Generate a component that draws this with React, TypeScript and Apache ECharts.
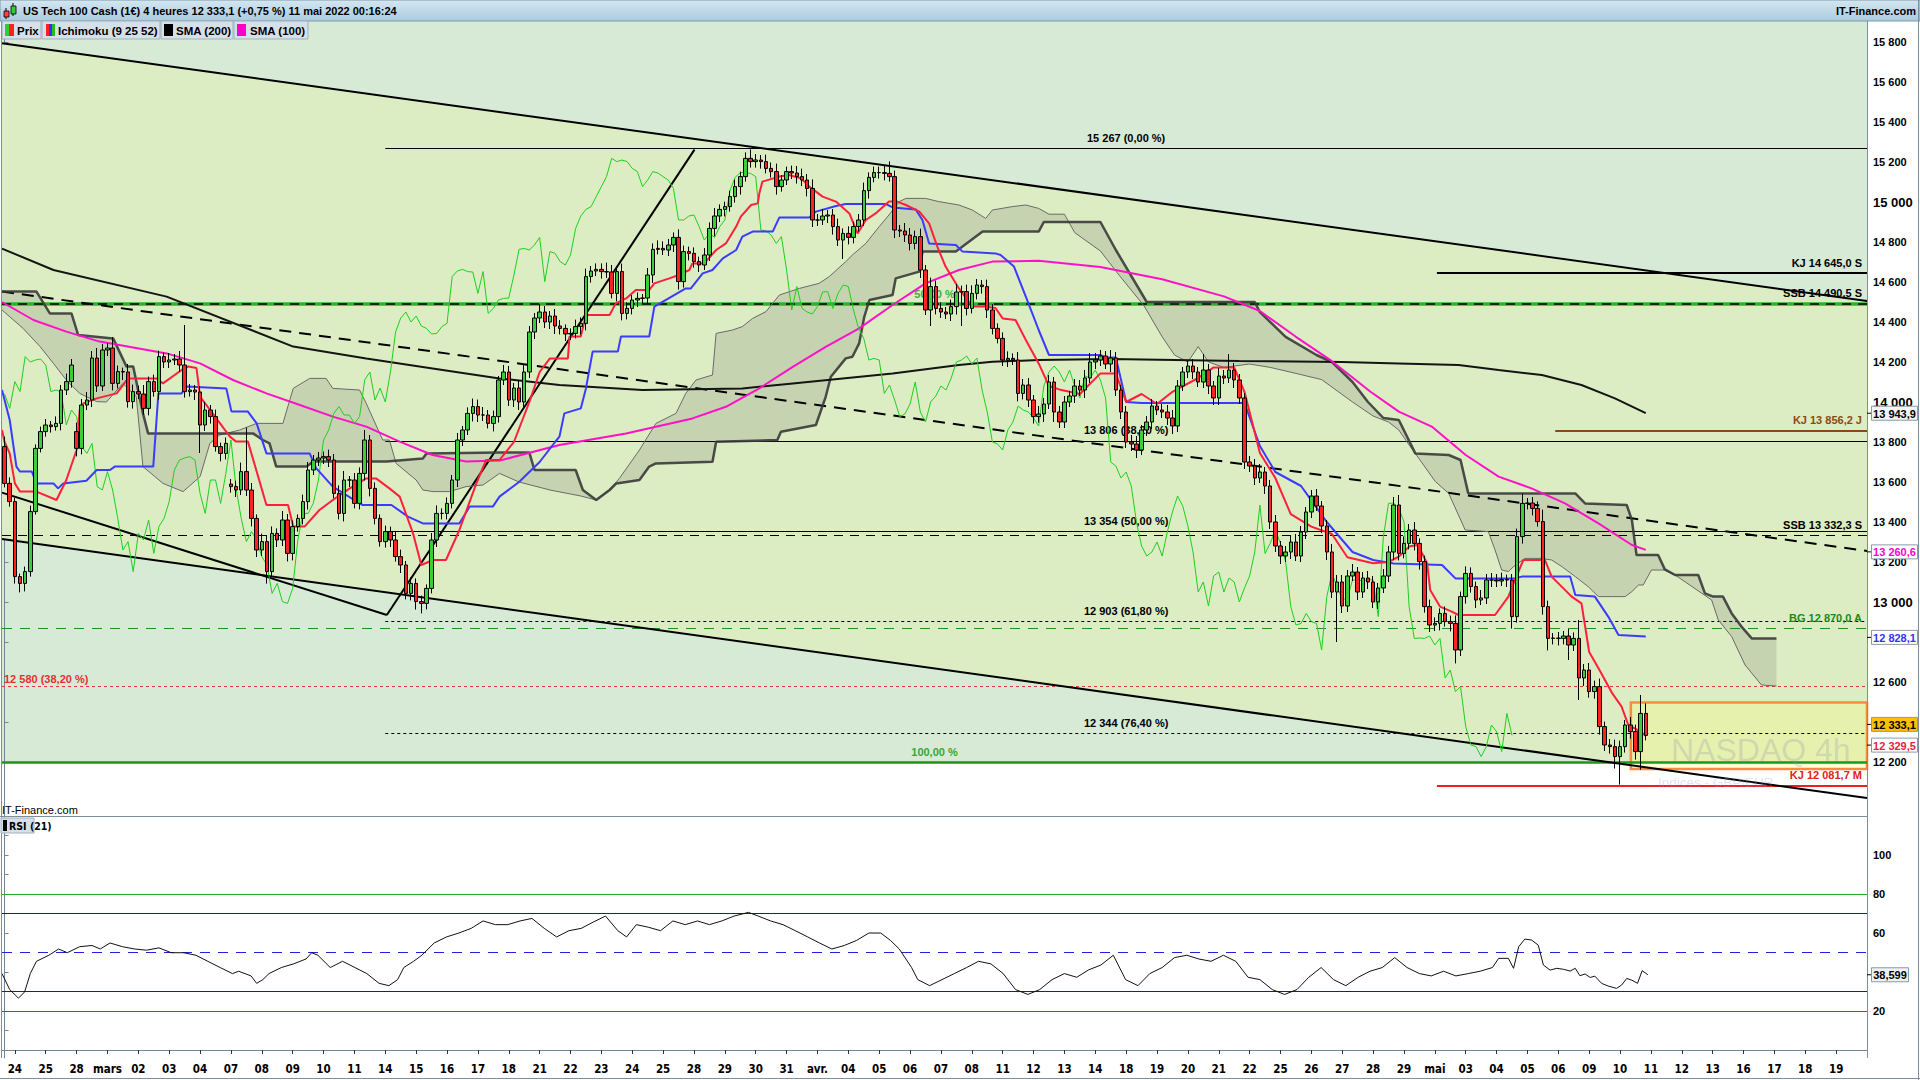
import React, { useEffect, useRef } from "react";
import * as echarts from "echarts";

// ---------------- data ----------------
const DAY_LABELS = ["24","25","28","mars","02","03","04","07","08","09","10","11","14","15","16","17","18","21","22","23","24","25","28","29","30","31","avr.","04","05","06","07","08","11","12","13","14","18","19","20","21","22","25","26","27","28","29","mai","03","04","05","06","09","10","11","12","13","16","17","18","19"];

const FIRST_OPEN = 13777;
const GAP_OPENS: Record<number, number> = { 14: 13852, 44: 13590 };

const CLOSES = [
  13593, 13502,
  13127, 13093, 13152, 13452, 13768, 13852,
  13885, 13877, 13893, 14060, 14102, 14185,
  13768, 13985, 14010, 14220, 14080, 14260,
  14270, 14093, 14152, 14150, 14002, 14052,
  14040, 13968, 14102, 14052, 14227, 14200,
  14210, 14215, 14185, 14052, 14060, 14050,
  13885, 13960, 13927, 13777, 13743, 13793,
  13577, 13560, 13652, 13560, 13418, 13260,
  13302, 13152, 13343, 13310, 13410, 13243,
  13377, 13418, 13502, 13660, 13710, 13720,
  13727, 13710, 13543, 13443, 13610, 13610,
  13493, 13643, 13810, 13568, 13418, 13302,
  13352, 13310, 13227, 13185, 13043, 13093,
  13002, 12993, 13068, 13310, 13443, 13443,
  13493, 13610, 13810, 13860, 13943, 13977,
  13935, 13935, 13893, 13927, 14110, 14150,
  14010, 14070, 14000, 14150, 14350, 14420,
  14450, 14400, 14430, 14380, 14368, 14340,
  14343, 14377, 14393, 14627, 14655, 14663,
  14652, 14650, 14543, 14652, 14443, 14468,
  14510, 14518, 14520, 14635, 14763, 14768,
  14760, 14785, 14823, 14602, 14752, 14743,
  14702, 14685, 14735, 14868, 14930, 14963,
  14977, 15027, 15077, 15127, 15218, 15202,
  15210, 15202, 15168, 15152, 15077, 15110,
  15152, 15145, 15127, 15110, 15068, 14910,
  14910, 14930, 14935, 14877, 14810, 14843,
  14823, 14877, 14910, 15057, 15123, 15147,
  15147, 15143, 15127, 14860, 14855, 14835,
  14793, 14827, 14660, 14460, 14577, 14468,
  14450, 14440, 14477, 14550, 14552, 14468,
  14543, 14585, 14577, 14460, 14368, 14318,
  14210, 14218, 14210, 14043, 14085, 14010,
  13927, 13940, 13990, 14100, 13950, 13900,
  14000, 14030, 14080, 14060, 14120, 14200,
  14210, 14230, 14190, 14220, 14060, 13950,
  13800, 13790, 13760, 13860, 13900, 13980,
  13960, 13950, 13920, 13880, 14080, 14150,
  14180, 14150, 14100, 14160, 14080, 14020,
  14130, 14120, 14160, 14110, 14020, 13700,
  13680, 13620, 13650, 13580, 13400, 13280,
  13230, 13250, 13300, 13230, 13350, 13450,
  13530, 13480, 13380, 13250, 13050, 13100,
  12980, 13130, 13150, 13050, 13120, 13100,
  13000, 13070, 13130, 13250, 13485, 13243,
  13293, 13360, 13293, 13202, 12977, 12885,
  12893, 12943, 12902, 12893, 12760, 13027,
  13143, 13077, 13010, 13020, 13110, 13110,
  13105, 13112, 13110, 12927, 13327, 13493,
  13495, 13468, 13402, 12977, 12818, 12820,
  12818, 12830, 12785, 12818, 12620, 12660,
  12552, 12577, 12377, 12285, 12277, 12227,
  12277, 12385, 12352, 12252, 12443, 12333.1,
];

const UP_WICK = [
  50, 30,
  20, 15, 25, 30, 20, 25,
  30, 20, 35, 25, 40, 30,
  45, 30, 40, 35, 50, 30,
  25, 55, 30, 20, 40, 35,
  30, 45, 25, 35, 30, 20,
  35, 25, 40, 200, 30, 25,
  30, 40, 25, 35, 20, 30,
  25, 30, 45, 220, 35, 20,
  40, 30, 35, 25, 45, 30,
  30, 20, 35, 40, 25, 30,
  25, 35, 30, 40, 45, 20,
  35, 30, 50, 25, 30, 20,
  30, 25, 40, 35, 20, 30,
  25, 30, 20, 35, 40, 25,
  30, 25, 35, 20, 30, 40,
  35, 40, 25, 30, 20, 35,
  30, 25, 40, 35, 30, 25,
  40, 30, 25, 35, 30, 20,
  25, 35, 30, 40, 25, 30,
  30, 45, 35, 25, 40, 30,
  25, 30, 20, 35, 30, 40,
  35, 30, 25, 40, 30, 25,
  30, 25, 35, 30, 40, 25,
  25, 30, 35, 25, 30, 45,
  30, 25, 35, 30, 40, 25,
  25, 30, 35, 40, 30, 45,
  30, 35, 25, 30, 40, 25,
  35, 25, 30, 40, 25, 30,
  30, 35, 60, 30, 25, 40,
  35, 30, 40, 25, 45, 30,
  30, 25, 35, 40, 30, 35,
  40, 30, 25, 35, 30, 25,
  30, 35, 25, 40, 30, 35,
  25, 40, 30, 35, 25, 30,
  30, 25, 35, 30, 40, 45,
  35, 30, 25, 40, 30, 25,
  30, 35, 40, 25, 30, 35,
  25, 30, 35, 40, 30, 25,
  30, 35, 25, 80, 30, 25,
  40, 30, 80, 35, 30, 25,
  30, 35, 40, 25, 30, 35,
  25, 30, 35, 40, 30, 25,
  30, 35, 25, 30, 40, 35,
  35, 30, 40, 25, 30, 35,
  30, 25, 35, 30, 40, 50,
  35, 30, 40, 25, 30, 35,
  30, 25, 35, 30, 40, 25,
  35, 30, 25, 40, 30, 35,
  30, 35, 25, 30, 40, 50,
  25, 30, 35, 60, 30, 25,
  30, 25, 35, 30, 92, 30,
  35, 30, 40, 25, 30, 35,
  30, 25, 40, 35, 92, 50,
];

const DOWN_WICK = [
  20, 25,
  35, 45, 40, 25, 15, 20,
  25, 30, 20, 35, 25, 30,
  40, 30, 25, 35, 30, 25,
  30, 35, 25, 40, 30, 35,
  25, 30, 35, 25, 40, 30,
  30, 25, 35, 30, 25, 40,
  140, 30, 35, 25, 40, 30,
  30, 35, 25, 30, 40, 35,
  30, 60, 25, 35, 30, 40,
  35, 25, 30, 40, 25, 30,
  30, 35, 25, 30, 40, 35,
  25, 30, 35, 40, 30, 25,
  30, 35, 25, 40, 30, 35,
  40, 50, 30, 25, 35, 30,
  30, 25, 35, 30, 25, 40,
  35, 30, 25, 40, 30, 25,
  30, 35, 40, 25, 30, 35,
  25, 30, 35, 40, 30, 35,
  30, 25, 40, 35, 30, 25,
  35, 30, 25, 40, 35, 30,
  30, 35, 25, 30, 40, 25,
  25, 30, 35, 40, 30, 35,
  30, 35, 25, 30, 40, 30,
  35, 25, 30, 40, 25, 30,
  30, 35, 25, 30, 40, 25,
  25, 30, 35, 30, 40, 35,
  30, 25, 35, 40, 30, 95,
  35, 30, 25, 30, 40, 25,
  30, 35, 25, 40, 30, 35,
  35, 30, 40, 25, 80, 30,
  30, 25, 35, 40, 170, 35,
  25, 30, 35, 40, 30, 25,
  30, 35, 25, 40, 30, 35,
  35, 30, 40, 25, 50, 30,
  30, 25, 35, 30, 40, 25,
  35, 30, 25, 40, 30, 35,
  30, 35, 40, 25, 30, 35,
  25, 30, 35, 40, 30, 25,
  30, 35, 25, 30, 40, 35,
  35, 30, 25, 40, 30, 35,
  30, 35, 25, 40, 35, 30,
  40, 30, 35, 25, 30, 35,
  30, 25, 35, 40, 30, 250,
  35, 30, 25, 40, 30, 35,
  30, 35, 25, 30, 40, 35,
  25, 30, 35, 40, 30, 35,
  30, 35, 25, 40, 67, 30,
  35, 30, 40, 25, 30, 35,
  30, 25, 35, 60, 30, 35,
  30, 35, 25, 40, 60, 30,
  35, 30, 75, 30, 110, 40,
  30, 35, 40, 30, 35, 60,
  140, 30, 35, 40, 90, 25,
];

// Ichimoku lines: [slot, value]
const TENKAN = [
  [-0.5,13860],[0,13800],[1,13743],[2,13593],[3,13552],[6.2,13552],[10.1,13510],[12,13610],[14,13760],[14.6,13960],[15.3,13993],[17.9,14018],[21.8,14043],[24,14118],[29.5,14118],[30.8,14093],[34.4,14160],[35.7,14177],[37.3,14170],[38,14027],[43.8,13827],[45,13802],[47.3,13802],[50.9,13485],[55.1,13485],[56.1,13377],[58.3,13377],[61.2,13460],[63.8,13510],[67.1,13568],[70.3,13618],[72.2,13618],[74.8,13568],[76.8,13527],[79.4,13343],[81,13185],[83.3,13210],[85.8,13210],[88.4,13360],[91.7,13593],[93.6,13710],[96.2,13710],[99,13800],[102,14000],[104,14150],[106,14218],
  [109.5,14218],[109.8,14327],[112,14327],[113,14435],[117.6,14435],[118.8,14493],[120.8,14518],[122.7,14560],[125.3,14560],[126.3,14593],[129.2,14618],[131.1,14635],[133.1,14660],[133.7,14693],[136,14693],[138.3,14760],[140.2,14793],[142.2,14877],[143.1,14927],[145.1,14985],[146.4,14993],[146.7,15043],[147.3,15102],[150.6,15127],[152.5,15135],[154.8,15118],[156.4,15077],[159,15027],[161.6,15002],[164.2,14943],[165.8,14843],[167.4,14910],[169.3,14943],[171.9,15002],[173.5,15002],[175.2,14985],[177.8,14952],[179.7,14893],[181.3,14777],[182.9,14677],[185.5,14568],[188.1,14477],[190.5,14477],[192.6,14470],[194,14418],[196.5,14410],[198.5,14310],[201,14193],
  [203,14080],[205,14063],[209,14040],[213,14143],[216,14143],[218,14000],[221,14040],[224,13990],[227,14051],[232,14120],[235,14173],[239,14173],[241,14051],[244,13745],[247,13620],[250,13439],[254,13377],[258,13340],[261,13224],[266,13194],[269,13200],
  [271,13227],[273,13277],[274.5,13285],[275.2,13260],[276.5,13193],[277.1,13060],[279,12977],[281.3,12952],[282.6,12935],[289.7,12935],[292.3,13027],[293.3,13093],[295.2,13210],[299.4,13210],[300.7,13127],[304.6,13027],[306.5,12993],[308,12750],[310,12660],[312.5,12543],[314.3,12477],[315.6,12385],[318,12352],[319,12329.5],
];

const KIJUN = [
  [-0.5,14060],[1,13910],[2.3,13677],[3,13652],[5.3,13652],[6.2,13593],[9.5,13593],[10.4,13568],[11.4,13593],[15.9,13606],[17.9,13660],[20.5,13660],[21.4,13677],[28.9,13677],[29.9,14043],[34.4,14043],[35.4,14077],[43.1,14068],[44.1,13952],[47.3,13952],[49,13893],[50.9,13743],[59.3,13743],[60.6,13668],[63.8,13577],[69,13493],[69.6,13485],[75.2,13485],[78.4,13427],[81.3,13393],[88.4,13393],[90.4,13477],[94.9,13477],[96.2,13527],[100,13600],[104,13700],[107,13800],
  [107.85,13827],[108.8,13943],[112,13968],[113,14068],[114.3,14252],[119.2,14252],[119.8,14327],[125.3,14327],[126.3,14477],[132.4,14568],[133.4,14568],[135.7,14643],[137.6,14660],[139.6,14718],[142.2,14760],[143.4,14827],[145.4,14852],[149.3,14852],[150.6,14923],[156.4,14923],[157.7,14952],[161.6,14980],[163.5,14990],[171.3,14990],[172.6,14973],[177.1,14963],[178.4,14910],[179.7,14793],[184.9,14785],[186.2,14752],[192.6,14743],[193.6,14735],[196.2,14677],[198.5,14527],[201,14360],
  [203,14235],[213,14235],[214,14222],[216,14222],[218,14000],[221,13995],[241,13995],[244,13780],[247,13650],[252,13580],[257,13400],[262,13250],[266,13210],[270,13193],
  [279.4,13185],[282,13118],[293.6,13118],[294.9,13127],[304.3,13127],[305.3,13035],[309.1,13027],[311.7,12927],[313.7,12835],[319,12828.1],
];

const SENKOU_B = [
  [-0.5,14552],[6.2,14552],[8.8,14443],[13,14443],[14.3,14335],[21.1,14318],[23.7,14177],[25,14177],[26.9,13943],[27.9,13843],[48.3,13843],[50.2,13810],[51.5,13793],[52.8,13677],[58.7,13677],[60,13702],[74.2,13702],[81.3,13718],[82,13743],[96.2,13747],[102,13747],[103,13660],[111,13660],[112.4,13560],[115,13510],[117.6,13560],[118.9,13593],[123.4,13610],[125.3,13677],[126.6,13693],[137.6,13701],[138.3,13801],[150.2,13810],[150.9,13851],[157.7,13885],[159.6,14026],[160.6,14126],[163.5,14218],[164.8,14226],[166.1,14293],[167.1,14426],[168.1,14510],[172.6,14535],[173.2,14618],[177.8,14652],[178.4,14752],[184.9,14752],[190.1,14852],[201,14852],
  [202,14900],[213,14900],[216,14760],[222,14500],[243,14500],[244,14449],[249,14326],[255,14235],[258,14200],[262,14100],[265,14000],[268,13920],
  [271,13910],[274.2,13743],[280.7,13735],[283,13710],[284.5,13543],[305.3,13543],[307.2,13493],[315.3,13485],[316.3,13410],[317.2,13235],[321.4,13235],[322.7,13163],[324.7,13135],[329.2,13135],[330.5,13043],[332.1,13027],[334,13027],[335.7,12943],[337.6,12877],[339.6,12818],[344.4,12818],
];

const SENKOU_A = [
  [-0.5,14460],[3.6,14368],[6.9,14277],[9.5,14193],[12,14110],[14.6,14043],[17.9,14002],[19.8,14000],[23,14093],[25.6,14027],[26.9,13677],[30.8,13593],[34.7,13552],[38,13627],[39.9,13793],[41.8,13835],[45.7,13860],[49,13893],[54.1,13893],[56.1,14068],[59.3,14118],[62.5,14118],[63.8,14068],[69,14060],[70.3,13993],[73.5,13810],[74.8,13810],[76.1,13693],[80,13610],[81.3,13560],[83.3,13552],[86.5,13552],[89.7,13577],[93,13585],[96.2,13643],[100,13600],[106,13560],[112,13530],[115,13510],[117.6,13560],[119.5,13618],[123.4,13760],[126.6,13893],[130.5,13943],[132.4,14043],[134.4,14110],[137.6,14135],[138.3,14343],[141.5,14360],[143.4,14377],[145.4,14418],[148,14452],[150.6,14535],[154.5,14568],[158.3,14593],[160.3,14627],[163.5,14702],[164.8,14735],[167.4,14793],[170,14877],[171.9,14935],[173.9,15002],[175.2,15018],[179,15018],[181.6,15002],[185.5,14985],[188.1,14960],[190.7,14918],[192,14960],[195.9,14977],[198.5,14985],[201,14968],
  [203,14939],[206,14939],[208,14847],[213,14755],[216.7,14632],[221.5,14480],[225,14326],[227.4,14235],[230,14200],[232,14277],[234,14200],[237,14173],[242,14190],[246,14173],[251,14143],[256,14112],[262,14000],[266,13930],[269,13900],
  [271,13860],[273,13785],[274.2,13743],[278.1,13602],[280.7,13543],[283.9,13360],[288.4,13352],[289.7,13260],[291,13160],[292.3,13152],[293.3,13177],[295.5,13218],[298.8,13218],[300.7,13210],[302.7,13177],[305.3,13127],[307.8,13077],[309.8,13027],[315,13027],[316.3,13052],[317.6,13085],[318.5,13085],[320.1,13160],[322.7,13160],[324.7,13135],[331.8,13010],[333.1,12910],[335.7,12827],[338.3,12685],[341.5,12585],[344.4,12580],
];

const SMA200 = [[-0.5,14767],[9.5,14660],[31.5,14527],[56.1,14277],[70.3,14218],[83.2,14168],[96.2,14118],[107.85,14085],[124,14060],[143.4,14068],[153.2,14093],[162.9,14118],[172.6,14143],[185.5,14185],[192,14201],[201,14210],[215,14215],[240,14205],[260,14200],[271,14193],[282.6,14185],[290.4,14160],[298.8,14135],[306.5,14085],[313,14018],[319,13943.9]];

const SMA100 = [[-0.5,14500],[5.6,14410],[12,14352],[18.5,14302],[31.5,14243],[38,14193],[44.4,14110],[50.9,14043],[57.4,13985],[63.8,13927],[70.3,13877],[76.8,13802],[83.2,13735],[89.7,13702],[96.2,13707],[107.85,13785],[120.8,13843],[133.7,13918],[140.2,13976],[146.7,14068],[153.2,14176],[159.6,14276],[166.1,14368],[172.6,14485],[179,14593],[185.5,14660],[192,14702],[201,14706],[213,14675],[225,14614],[237,14528],[244,14455],[251,14326],[258,14204],[265.5,14051],[271,13952],[277.4,13877],[284,13735],[290.4,13627],[296.8,13568],[303.3,13493],[309.8,13393],[316.3,13285],[319,13260.6]];

const RSI = [
  [-0.5,39.2],[1,31],[2.7,26.6],[3.9,29.8],[5,39.2],[6.2,45.5],[8.6,48.6],[10.5,51.8],[12.2,49.9],[14.6,53],[17,53.6],[18.6,51.8],[20.5,54.9],[22.9,53],[25.3,51.8],[27.6,51.2],[30,52.4],[32.4,49.9],[34.8,49.9],[37.2,48.6],[39.5,45.5],[41.9,42.3],[44.3,39.2],[45.5,40.4],[47.9,38],[49,34.2],[50.2,36.1],[51.4,39.2],[53.8,42.3],[56.2,44.2],[58.6,46.7],[59.7,49.9],[60.9,48.6],[63.3,42.3],[65.7,45.5],[68.1,42.3],[70.4,39.2],[72.8,34.2],[74.7,33],[76.4,36.1],[77.6,42.3],[79.5,45.5],[81.1,48.6],[83.5,54.9],[85.9,58],[88.3,60],[90.7,62.4],[93,66.2],[95.4,64.3],[97.8,64.3],[100.2,66.2],[102.5,67.5],[104.9,62.4],[107.3,58],[109.7,61.2],[112.1,62.4],[114.4,65.6],[116.8,68.7],[119.2,61.2],[120.9,58],[122.8,64.3],[125.1,63],[127.5,61.2],[129.9,66.2],[132.3,64.3],[134.7,66.2],[137,64.3],[139.4,66.2],[141.8,68.7],[144.6,70.6],[146.5,68.7],[148.9,66.2],[151.3,64.3],[153.7,61.2],[156.1,58],[158.4,54.9],[160.8,51.8],[163.2,53.6],[165.6,56.2],[168,60],[170.3,60],[172.2,56.2],[173.9,51.8],[176.3,42.3],[177.5,36.1],[179.8,33],[182.2,36.1],[184.6,39.2],[187,42.3],[189.3,45.5],[191.7,44.2],[194.1,39.2],[196.5,31],[198.9,28.5],[201.2,31],[203.6,36.1],[206,39.2],[208.4,37.3],[210.7,41.1],[213.1,43.6],[215.5,48.6],[217.9,36.1],[220.3,33],[222.6,39.2],[225,42.3],[227.4,47.4],[229.8,48.6],[232.1,46.7],[234.5,45.5],[236.9,48.6],[239.3,45.5],[241.7,37.3],[244,36.1],[246.4,31],[248.8,28.5],[251.2,31],[253.5,37.3],[255.9,42.3],[258.3,36.1],[260.7,33],[263.1,37.3],[265.4,40.4],[267.8,42.3],[270.2,47.4],[272.6,42.3],[275,39.2],[277.3,38],[279.7,40.4],[282.1,38],[284.5,39.2],[286.8,40.4],[289.2,42.3],[290.4,47],[292.3,47],[293.3,41.9],[294.3,53],[295.5,56.9],[296.8,56.4],[298.1,53.8],[299.1,43.6],[300.4,41],[301.7,41.9],[303,41.4],[304.3,40.5],[305.3,41.9],[306.2,38.1],[307.2,39],[308.2,37.2],[309.1,37.9],[310.4,34.2],[311.7,32.8],[313.3,31.6],[314.3,33.3],[315.3,36.7],[316.3,35.8],[317.4,34.2],[318.3,40.7],[319.4,38.599],
];

// drawn trend lines [slot, value]
const UPPER_LINE = [[-0.5,15794],[362,14505]];
const LOWER_LINE = [[-0.5,13315],[362,12020]];
const DASHED_LINE = [[-0.5,14552],[362,13255]];
const LEFT_LINE = [[-0.5,13547],[74.3,12935]];
const STEEP_LINE = [[74.3,12935],[134.1,15262]];
const CHANNEL_AREA = [[-0.5,15794],[362,14505],[362,12200],[311.6,12200],[-0.5,13315]];
const UPPER_AREA = [[-0.5,15905],[362,15905],[362,12200],[-0.5,12200]];
const BOX_AREA = [[316.1,12498],[362,12498],[362,12165],[316.1,12165]];

// horizontal levels: id, value, start slot, text
const LEVEL_IDS = ["fib0","fib382","fib50","fib618","fib764","fib100","g50","ssbS1","ssbS2","bg","r382","kjS","kjJ","kjM"];
const LEVEL_VALUES = [15267, 13806, 13354, 12903, 12344, 12200, 14490, 14490.5, 13332.3, 12870, 12580, 14645, 13856.2, 12081.7];
const LEVEL_FROM = [74, 74, 74, 74, 74, -0.5, -0.5, -0.5, -0.5, -0.5, -0.5, 278.4, 301.4, 278.4];
const LEVEL_TEXTS = ["15 267 (0,00 %)","13 806 (38,20 %)","13 354 (50,00 %)","12 903 (61,80 %)","12 344 (76,40 %)","100,00 %","50,00 %","SSB 14 490,5 S","SSB 13 332,3 S","BG 12 870,0 A","12 580 (38,20 %)","KJ 14 645,0 S","KJ 13 856,2 J","KJ 12 081,7 M"];

const PRICE_TICKS = [12200,12400,12600,12800,13000,13200,13400,13600,13800,14000,14200,14400,14600,14800,15000,15200,15400,15600,15800];
const PRICE_LABELS = [12200,12600,13000,13200,13400,13600,13800,14000,14200,14400,14600,14800,15000,15200,15400,15600,15800];
const RSI_TICKS = [0,10,20,30,40,50,60,70,80,90,100,110];
const RSI_LABELS = [20,60,80,100];
const RSI_LEVELS = [80, 70, 50, 30, 20];

const BADGE_VALUES = [13943.9, 13260.6, 12828.1, 12333.1, 12329.5];
const BADGE_TEXTS = ["13 943,9", "13 260,6", "12 828,1", "12 333,1", "12 329,5"];
const RSI_LAST = 38.599;

const TITLE = "US Tech 100 Cash (1€) 4 heures 12 333,1 (+0,75 %) 11 mai 2022 00:16:24";
const LEGEND = ["Prix", "Ichimoku (9 25 52)", "SMA (200)", "SMA (100)"];

// ---------------- styles ----------------
const FONT = "'Liberation Sans', Arial, Helvetica, sans-serif";
const NARROW = "'Liberation Sans Narrow', 'Arial Narrow', 'DejaVu Sans Condensed', sans-serif";
const AXIS_COLOR = "#6f8696";

const LEVEL_STYLE: Record<string, any> = {
  fib0: { color: "#000", width: 1, type: "solid", pos: "insideMiddleTop", tc: "#000" },
  fib382: { color: "#000", width: 1, type: "solid", pos: "insideMiddleTop", tc: "#000" },
  fib50: { color: "#000", width: 1, type: "solid", pos: "insideMiddleTop", tc: "#000" },
  fib618: { color: "#000", width: 1, type: [3, 3], pos: "insideMiddleTop", tc: "#000" },
  fib764: { color: "#000", width: 1, type: [3, 3], pos: "insideMiddleTop", tc: "#000" },
  fib100: { color: "#1c961c", width: 2.5, type: "solid", pos: "insideMiddleTop", tc: "#34a834" },
  g50: { color: "#30b030", width: 3.5, type: "solid", pos: "insideMiddleTop", tc: "#3fae3f" },
  ssbS1: { color: "#000", width: 1.5, type: [9, 7], pos: "insideEndTop", tc: "#000" },
  ssbS2: { color: "#000", width: 1, type: [9, 7], pos: "insideEndTop", tc: "#000" },
  bg: { color: "#1f8f1f", width: 1.2, type: [10, 8], pos: "insideEndTop", tc: "#1a8a1a" },
  r382: { color: "#ee3333", width: 1, type: [3, 3], pos: "insideStartTop", tc: "#e53030" },
  kjS: { color: "#000", width: 2, type: "solid", pos: "insideEndTop", tc: "#000" },
  kjJ: { color: "#8b4a12", width: 2, type: "solid", pos: "insideEndTop", tc: "#8b4a12" },
  kjM: { color: "#e82020", width: 2, type: "solid", pos: "insideEndTop", tc: "#e82020" },
};
const RSI_LEVEL_STYLE = [
  { color: "#22aa22", type: "solid" },
  { color: "#1a1aa0", type: "solid" },
  { color: "#2222dd", type: [10, 8] },
  { color: "#1a1aa0", type: "solid" },
  { color: "#dd2222", type: "solid" },
];
const BADGE_STYLE = [
  { color: "#000", bg: "#f2f4f6", dy: 0 },
  { color: "#ff00cc", bg: "#ffffff", dy: 2 },
  { color: "#3333ff", bg: "#ffffff", dy: 1 },
  { color: "#000", bg: "#ffc000", dy: -11 },
  { color: "#e8223a", bg: "#ffffff", dy: 9 },
];

const spaced = (v: number) => {
  const s = String(Math.round(v));
  return s.length > 3 ? s.slice(0, -3) + " " + s.slice(-3) : s;
};

function lineSeries(data: any[], color: string, width: number, z: number, extra: any = {}, axis = 0) {
  return {
    type: "line", xAxisIndex: axis, yAxisIndex: axis, data, z, silent: true,
    symbol: "none", showSymbol: false, animation: false,
    lineStyle: { color, width, ...extra },
  };
}

function polySeries(points: number[][], style: any, z: number) {
  return {
    type: "custom", xAxisIndex: 0, yAxisIndex: 0, z, silent: true, animation: false,
    data: [[points[0][0], points[0][1]]],
    encode: { x: 0, y: 1 },
    renderItem: (_p: any, api: any) => ({
      type: "polygon",
      shape: { points: points.map((p) => api.coord(p)) },
      style,
    }),
  };
}

function buildOption() {
  const ohlc = CLOSES.map((c, k) => {
    const o = k === 0 ? FIRST_OPEN : GAP_OPENS[k] ?? CLOSES[k - 1];
    return [k, o, c, Math.min(o, c) - DOWN_WICK[k], Math.max(o, c) + UP_WICK[k]];
  });
  const chikou = CLOSES.slice(26).map((c, i) => [i, c]);
  const cloud = [...SENKOU_A, ...SENKOU_B.slice().reverse()];
  const daySlots = DAY_LABELS.map((_, d) => 2 + 6 * d);

  const levelData = LEVEL_IDS.map((id, i) => {
    const st = LEVEL_STYLE[id];
    return [
      {
        coord: [LEVEL_FROM[i], LEVEL_VALUES[i]],
        lineStyle: { color: st.color, width: st.width, type: st.type },
        label: {
          show: true, position: st.pos, formatter: LEVEL_TEXTS[i], color: st.tc,
          fontFamily: FONT, fontWeight: "bold", fontSize: 11, distance: st.pos === "insideStartTop" ? 2 : 5,
        },
      },
      { coord: [362, LEVEL_VALUES[i]] },
    ];
  });

  const rsiLevelData = RSI_LEVELS.map((v, i) => [
    { coord: [-0.5, v], lineStyle: { color: RSI_LEVEL_STYLE[i].color, width: 1.2, type: RSI_LEVEL_STYLE[i].type }, label: { show: false } },
    { coord: [362, v] },
  ]);

  return {
    animation: false,
    backgroundColor: "#ffffff",
    grid: [
      { left: 2, top: 21, width: 1865, height: 795, outerBoundsMode: "none", containLabel: false },
      { left: 2, top: 818, width: 1865, height: 240, outerBoundsMode: "none", containLabel: false },
    ],
    xAxis: [
      { type: "value", gridIndex: 0, min: -0.5, max: 362, show: false, splitLine: { show: false } },
      {
        type: "value", gridIndex: 1, min: -0.5, max: 362,
        splitLine: { show: false },
        axisLine: { show: true, lineStyle: { color: AXIS_COLOR, width: 1 } },
        axisTick: { show: true, customValues: daySlots, length: 4, lineStyle: { color: "#333" } },
        axisLabel: {
          show: true, customValues: daySlots, margin: 5,
          formatter: (v: number) => DAY_LABELS[Math.round((v - 2) / 6)] ?? "",
          color: "#000", fontFamily: NARROW, fontWeight: "bold", fontSize: 11.5,
        },
      },
    ],
    yAxis: [
      {
        type: "value", gridIndex: 0, position: "right", min: 11930, max: 15905,
        splitLine: { show: false },
        axisLine: { show: true, lineStyle: { color: AXIS_COLOR, width: 1 } },
        axisTick: { show: true, customValues: PRICE_TICKS, length: 4, lineStyle: { color: AXIS_COLOR } },
        axisLabel: {
          show: true, customValues: PRICE_LABELS, margin: 6, color: "#000",
          fontFamily: FONT, fontWeight: "bold", fontSize: 11,
          formatter: (v: number) => (v % 1000 === 0 ? `{big|${spaced(v)}}` : spaced(v)),
          rich: { big: { fontSize: 13, fontWeight: "bold", fontFamily: FONT, color: "#000" } },
        },
      },
      {
        type: "value", gridIndex: 1, position: "right", min: -4.1, max: 119,
        splitLine: { show: false },
        axisLine: { show: true, lineStyle: { color: AXIS_COLOR, width: 1 } },
        axisTick: { show: true, customValues: RSI_TICKS, length: 4, lineStyle: { color: AXIS_COLOR } },
        axisLabel: {
          show: true, customValues: RSI_LABELS, margin: 6, color: "#000",
          fontFamily: FONT, fontWeight: "bold", fontSize: 11,
        },
      },
    ],
    series: [
      polySeries(UPPER_AREA, { fill: "#d6ead6" }, 0),
      polySeries(CHANNEL_AREA, { fill: "#dcecc3" }, 1),
      polySeries(cloud, { fill: "rgba(100,100,100,0.18)" }, 2),
      polySeries(BOX_AREA, { fill: "rgba(255,255,120,0.28)", stroke: "#ff8a3d", lineWidth: 2.5 }, 3),
      {
        type: "line", xAxisIndex: 0, yAxisIndex: 0, data: [[-10, 13000]], z: 4, silent: true,
        symbol: "none", showSymbol: false, lineStyle: { width: 0 },
        markLine: { silent: true, symbol: ["none", "none"], animation: false, data: levelData },
      },
      lineSeries(UPPER_LINE, "#000", 2, 5),
      lineSeries(LOWER_LINE, "#000", 2, 5),
      lineSeries(DASHED_LINE, "#000", 2, 5, { type: [12, 8] }),
      lineSeries(LEFT_LINE, "#000", 2, 5),
      lineSeries(STEEP_LINE, "#000", 2, 5),
      lineSeries(SENKOU_A, "#6a6a6a", 1, 6),
      lineSeries(SENKOU_B, "#3a3a3a", 2.5, 6, { opacity: 0.9 }),
      lineSeries(SMA200, "#141414", 2, 7),
      lineSeries(SMA100, "#ff10c8", 2, 7),
      lineSeries(chikou, "#1fcf1f", 1, 8),
      lineSeries(KIJUN, "#3b3bff", 2, 9),
      lineSeries(TENKAN, "#ff1f3d", 2, 9),
      {
        type: "candlestick", xAxisIndex: 0, yAxisIndex: 0, z: 10, silent: true, animation: false,
        barWidth: 4, data: ohlc, encode: { x: 0, y: [1, 2, 3, 4] },
        itemStyle: { color: "#3ccc3c", color0: "#ff2222", borderColor: "#000", borderColor0: "#000", borderWidth: 1 },
      },
      {
        ...lineSeries(RSI, "#111", 1, 5, {}, 1),
        markLine: { silent: true, symbol: ["none", "none"], animation: false, data: rsiLevelData },
      },
    ],
  };
}

function staticGraphics() {
  const g: any[] = [];
  const Z = 100;
  g.push({
    type: "rect", z: Z, shape: { x: 0, y: 0, width: 1920, height: 21 },
    style: {
      fill: new echarts.graphic.LinearGradient(0, 0, 0, 1, [
        { offset: 0, color: "#d4e7f1" }, { offset: 1, color: "#aacbdf" },
      ]),
      stroke: "#7d98aa", lineWidth: 1,
    },
  });
  // title icon
  g.push({ type: "line", z: Z, shape: { x1: 6, y1: 8, x2: 6, y2: 19 }, style: { stroke: "#000", lineWidth: 1 } });
  g.push({ type: "rect", z: Z, shape: { x: 4, y: 11, width: 5, height: 6 }, style: { fill: "#ff4040", stroke: "#000", lineWidth: 0.8 } });
  g.push({ type: "line", z: Z, shape: { x1: 13, y1: 3, x2: 13, y2: 16 }, style: { stroke: "#000", lineWidth: 1 } });
  g.push({ type: "rect", z: Z, shape: { x: 11, y: 6, width: 5, height: 8 }, style: { fill: "#33cc33", stroke: "#000", lineWidth: 0.8 } });
  g.push({
    type: "text", z: Z, x: 23, y: 11,
    style: { text: TITLE, font: `bold 11px ${FONT}`, fill: "#000", textVerticalAlign: "middle", verticalAlign: "middle" },
  });
  g.push({
    type: "text", z: Z, x: 1916, y: 11,
    style: { text: "IT-Finance.com", font: `bold 11px ${FONT}`, fill: "#000", textAlign: "right", align: "right", textVerticalAlign: "middle", verticalAlign: "middle" },
  });
  // legend boxes
  const boxes = [[2, 39], [42, 118], [161, 72], [234, 74]];
  boxes.forEach(([x, w], i) => {
    g.push({ type: "rect", z: Z, shape: { x, y: 21, width: w, height: 18 }, style: { fill: "#d6e0e8", stroke: "#9fb0bd", lineWidth: 1 } });
    const tx = [17, 58, 176, 250][i];
    g.push({
      type: "text", z: Z, x: tx, y: 30.5,
      style: { text: LEGEND[i], font: `bold 11.5px ${FONT}`, fill: "#000", textVerticalAlign: "middle", verticalAlign: "middle" },
    });
  });
  g.push({ type: "rect", z: Z, shape: { x: 5, y: 24, width: 4, height: 12 }, style: { fill: "#33cc33" } });
  g.push({ type: "rect", z: Z, shape: { x: 9, y: 24, width: 5, height: 12 }, style: { fill: "#ff2020" } });
  g.push({ type: "rect", z: Z, shape: { x: 46, y: 24, width: 3, height: 12 }, style: { fill: "#ff2020" } });
  g.push({ type: "rect", z: Z, shape: { x: 49, y: 24, width: 3, height: 12 }, style: { fill: "#3030ff" } });
  g.push({ type: "rect", z: Z, shape: { x: 52, y: 24, width: 3, height: 12 }, style: { fill: "#20c020" } });
  g.push({ type: "rect", z: Z, shape: { x: 164, y: 24, width: 9, height: 12 }, style: { fill: "#000" } });
  g.push({ type: "rect", z: Z, shape: { x: 237, y: 24, width: 9, height: 12 }, style: { fill: "#ff00cc" } });

  // panel borders
  const border = { stroke: "#7b8f9e", lineWidth: 1 };
  g.push({ type: "line", z: Z, shape: { x1: 1.5, y1: 21, x2: 1.5, y2: 1058 }, style: border });
  g.push({ type: "line", z: Z, shape: { x1: 0, y1: 816.5, x2: 1867, y2: 816.5 }, style: border });
  g.push({ type: "line", z: Z, shape: { x1: 1867.5, y1: 21, x2: 1867.5, y2: 1058 }, style: border });
  g.push({ type: "line", z: Z, shape: { x1: 1918.5, y1: 0, x2: 1918.5, y2: 1080 }, style: border });
  g.push({ type: "line", z: Z, shape: { x1: 0, y1: 1078.5, x2: 1920, y2: 1078.5 }, style: border });

  g.push({
    type: "text", z: Z, x: 2, y: 810,
    style: { text: "IT-Finance.com", font: `11px ${FONT}`, fill: "#000", textVerticalAlign: "middle", verticalAlign: "middle" },
  });
  // RSI legend
  g.push({ type: "rect", z: Z, shape: { x: 1, y: 818, width: 33, height: 15 }, style: { fill: "#d6e0e8", stroke: "#9fb0bd", lineWidth: 1 } });
  g.push({ type: "rect", z: Z, shape: { x: 3, y: 820, width: 4, height: 11 }, style: { fill: "#000" } });
  g.push({
    type: "text", z: Z, x: 9, y: 826,
    style: { text: "RSI (21)", font: `bold 10.5px ${NARROW}`, fill: "#000", textVerticalAlign: "middle", verticalAlign: "middle" },
  });
  // watermark
  g.push({
    type: "text", z: 9.5, x: 1671, y: 750, silent: true,
    style: { text: "NASDAQ 4h", font: `32px ${FONT}`, fill: "rgba(150,150,175,0.28)", textVerticalAlign: "middle", verticalAlign: "middle" },
  });
  g.push({
    type: "text", z: 9.5, x: 1658, y: 782, silent: true,
    style: { text: "Indices - GBP/EUR", font: `13.5px ${FONT}`, fill: "rgba(150,150,210,0.3)", textVerticalAlign: "middle", verticalAlign: "middle" },
  });
  return g;
}

function badgeGraphics(chart: any) {
  const g: any[] = [];
  BADGE_VALUES.forEach((v, i) => {
    const st = BADGE_STYLE[i];
    const y = chart.convertToPixel({ yAxisIndex: 0 }, v) + st.dy;
    g.push({ type: "line", z: 110, shape: { x1: 1867, y1: y, x2: 1872, y2: y }, style: { stroke: "#000", lineWidth: 1 } });
    g.push({ type: "rect", z: 110, shape: { x: 1871.5, y: y - 7, width: 46, height: 14 }, style: { fill: st.bg, stroke: "#8a9ba8", lineWidth: 1 } });
    g.push({
      type: "text", z: 111, x: 1894.5, y: y + 0.5,
      style: { text: BADGE_TEXTS[i], font: `bold 11px ${FONT}`, fill: st.color, textAlign: "center", align: "center", textVerticalAlign: "middle", verticalAlign: "middle" },
    });
  });
  const ry = chart.convertToPixel({ yAxisIndex: 1 }, RSI_LAST);
  g.push({ type: "line", z: 110, shape: { x1: 1867, y1: ry, x2: 1872, y2: ry }, style: { stroke: "#000", lineWidth: 1 } });
  g.push({ type: "rect", z: 110, shape: { x: 1871.5, y: ry - 7, width: 37, height: 14 }, style: { fill: "#eef2f5", stroke: "#8a9ba8", lineWidth: 1 } });
  g.push({
    type: "text", z: 111, x: 1890, y: ry + 0.5,
    style: { text: "38,599", font: `bold 11px ${FONT}`, fill: "#000", textAlign: "center", align: "center", textVerticalAlign: "middle", verticalAlign: "middle" },
  });
  return g;
}

export default function App() {
  const ref = useRef<HTMLDivElement>(null);
  useEffect(() => {
    document.body.style.margin = "0";
    const chart = echarts.init(ref.current!, undefined, { renderer: "svg" });
    chart.setOption(buildOption() as any);
    chart.setOption({ graphic: { elements: [...staticGraphics(), ...badgeGraphics(chart)] } } as any);
    return () => chart.dispose();
  }, []);
  return <div ref={ref} style={{ width: 1920, height: 1080, background: "#fff" }} />;
}
